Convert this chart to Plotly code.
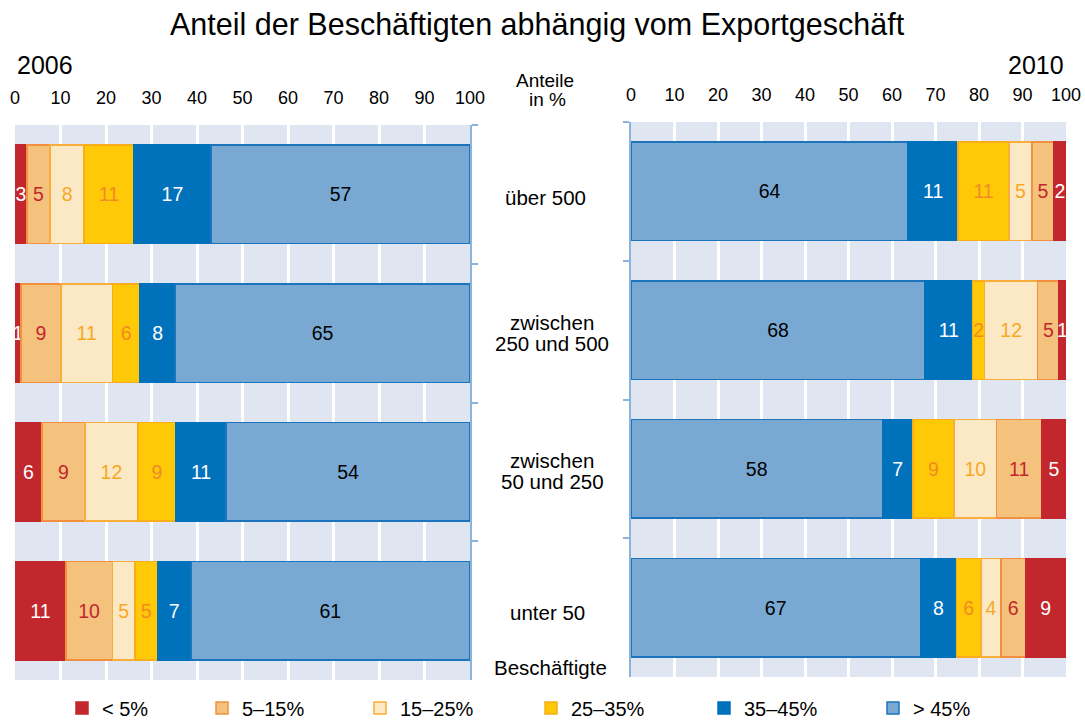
import plotly.graph_objects as go

# ---------------- data ----------------
categories = ["über 500", "zwischen 250 und 500", "zwischen 50 und 250", "unter 50"]
series = ["< 5%", "5–15%", "15–25%", "25–35%", "35–45%", "> 45%"]

# 2006: segment widths and printed labels
values_2006 = {
    "< 5%":   [2.6, 1.3, 5.9, 11.2],
    "5–15%":  [5.1, 8.8, 9.5, 10.2],
    "15–25%": [7.5, 11.3, 11.6, 5.0],
    "25–35%": [10.9, 6.1, 8.4, 4.9],
    "35–45%": [17.0, 7.7, 11.0, 7.4],
    "> 45%":  [56.9, 64.8, 53.6, 61.2],
}
labels_2006 = {
    "< 5%":   [3, 1, 6, 11],
    "5–15%":  [5, 9, 9, 10],
    "15–25%": [8, 11, 12, 5],
    "25–35%": [11, 6, 9, 5],
    "35–45%": [17, 8, 11, 7],
    "> 45%":  [57, 65, 54, 61],
}
# 2010
values_2010 = {
    "< 5%":   [2.8, 1.6, 5.5, 9.2],
    "5–15%":  [5.0, 4.9, 10.5, 5.7],
    "15–25%": [5.3, 12.2, 9.7, 4.5],
    "25–35%": [11.7, 2.8, 9.5, 5.7],
    "35–45%": [11.5, 10.9, 7.0, 8.3],
    "> 45%":  [63.7, 67.6, 57.8, 66.5],
}
labels_2010 = {
    "< 5%":   [2, 1, 5, 9],
    "5–15%":  [5, 5, 11, 6],
    "15–25%": [5, 12, 10, 4],
    "25–35%": [11, 2, 9, 6],
    "35–45%": [11, 11, 7, 8],
    "> 45%":  [64, 68, 58, 67],
}
x_ticks = list(range(0, 101, 10))

# ---------------- styles ----------------
FONT = "Liberation Sans, Arial, Helvetica, sans-serif"
fill = {
    "< 5%": "#c1272d", "5–15%": "#f5c27e", "15–25%": "#fbe9c5",
    "25–35%": "#ffc907", "35–45%": "#0072bc", "> 45%": "#79a9d3",
}
edge = {
    "< 5%": "#c1272d", "5–15%": "#f3903f", "15–25%": "#f9ad3a",
    "25–35%": "#f9ad1a", "35–45%": "#0072bc", "> 45%": "#1c75bc",
}
txtcol = {
    "< 5%": "white", "5–15%": "#c1272d", "15–25%": "#f7a823",
    "25–35%": "#f08a24", "35–45%": "white", "> 45%": "black",
}
legend_left_px = [80, 220, 378, 549, 722, 891]   # left edge of each legend square

W, H = 1085, 720
def px_x(p): return p / W
def px_y(p): return 1 - p / H

BAR_FONT = 19.5
fig = go.Figure()

for i, s in enumerate(series):
    fig.add_trace(go.Bar(
        y=categories, x=values_2006[s], orientation="h", name=s,
        text=[str(v) for v in labels_2006[s]], textposition="inside",
        insidetextanchor="middle", textangle=0,
        textfont=dict(color=txtcol[s], size=BAR_FONT, family=FONT),
        marker=dict(color=fill[s], line=dict(color=edge[s], width=1.5)),
        xaxis="x", yaxis="y", showlegend=True, hoverinfo="skip",
        legend="legend" if i == 0 else f"legend{i + 1}",
    ))
for s in reversed(series):
    fig.add_trace(go.Bar(
        y=categories, x=values_2010[s], orientation="h", name=s,
        text=[str(v) for v in labels_2010[s]], textposition="inside",
        insidetextanchor="middle", textangle=0,
        textfont=dict(color=txtcol[s], size=BAR_FONT, family=FONT),
        marker=dict(color=fill[s], line=dict(color=edge[s], width=1.5)),
        xaxis="x2", yaxis="y2", showlegend=False, hoverinfo="skip",
    ))

axis_line = "#8ab4dc"
common_x = dict(range=[0, 100], side="top", tickmode="array", tickvals=x_ticks,
                ticktext=[str(t) for t in x_ticks], showgrid=True, gridcolor="white",
                gridwidth=3, zeroline=False, showline=False, ticks="",
                ticklabelstandoff=16, tickfont=dict(size=18, family=FONT, color="black"),
                fixedrange=True, automargin=False)
common_y = dict(type="category", categoryorder="array", categoryarray=categories,
                autorange="reversed", showline=True, linecolor=axis_line, linewidth=1.5,
                ticks="outside", tickson="boundaries", ticklen=6, tickcolor=axis_line,
                tickwidth=1.5, showticklabels=False, showgrid=False, zeroline=False,
                fixedrange=True, automargin=False)

layout_legends = {}
for i, s in enumerate(series):
    key = "legend" if i == 0 else f"legend{i + 1}"
    layout_legends[key] = dict(
        orientation="h", x=px_x(legend_left_px[i] - 18), xanchor="left",
        y=px_y(708), yanchor="middle",
        font=dict(size=20, family=FONT, color="black"),
        bgcolor="rgba(0,0,0,0)", itemclick=False, itemdoubleclick=False)

fig.update_layout(
    width=W, height=H, barmode="stack", bargap=0.29,
    paper_bgcolor="white", plot_bgcolor="#dfe6f2",
    margin=dict(l=0, r=0, t=0, b=0, autoexpand=False),
    font=dict(family=FONT, color="black"),
    uniformtext=dict(minsize=BAR_FONT, mode="show"),
    xaxis=dict(domain=[px_x(15), px_x(470)], anchor="y", **common_x),
    yaxis=dict(domain=[px_y(680), px_y(125)], anchor="x", side="right", **common_y),
    xaxis2=dict(domain=[px_x(631), px_x(1066)], anchor="y2", **common_x),
    yaxis2=dict(domain=[px_y(677), px_y(122)], anchor="x2", side="left", **common_y),
    **layout_legends,
)

ann = []
def add_text(txt, x, y, size=20.5, xanchor="center"):
    ann.append(dict(text=txt, x=px_x(x), y=px_y(y), xref="paper", yref="paper",
                    xanchor=xanchor, yanchor="middle", showarrow=False,
                    font=dict(size=size, family=FONT, color="black")))

add_text("Anteil der Beschäftigten abhängig vom Exportgeschäft", 537, 25, size=30.5)
add_text("2006", 15, 65, size=25, xanchor="left")
add_text("2010", 1066, 65, size=25, xanchor="right")
add_text("Anteile", 545, 80, size=19)
add_text("in %", 547, 100, size=19)
add_text("über 500", 545, 197)
add_text("zwischen", 552, 322)
add_text("250 und 500", 552, 343)
add_text("zwischen", 552, 461)
add_text("50 und 250", 552, 482)
add_text("unter 50", 547, 612)
add_text("Beschäftigte", 550, 667)
fig.update_layout(annotations=ann)

fig.write_html(
    "out.html",
    config={"displayModeBar": False},
    post_script="document.body.style.margin='0';document.body.style.padding='0';",
)
